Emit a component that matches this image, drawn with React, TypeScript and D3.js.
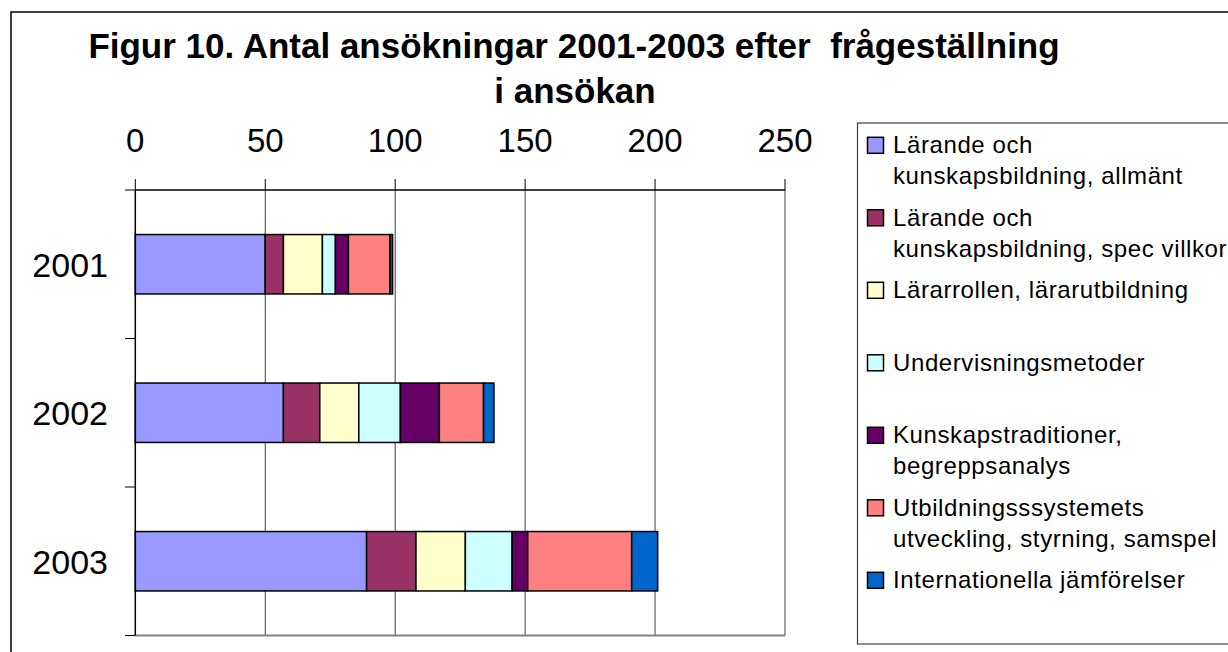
import React from 'react';
import * as d3 from 'd3';

const categories = ['2001', '2002', '2003'];
const seriesNames = [
  ['Lärande och', 'kunskapsbildning, allmänt'],
  ['Lärande och', 'kunskapsbildning, spec villkor'],
  ['Lärarrollen, lärarutbildning'],
  ['Undervisningsmetoder'],
  ['Kunskapstraditioner,', 'begreppsanalys'],
  ['Utbildningsssystemets', 'utveckling, styrning, samspel'],
  ['Internationella jämförelser'],
];
const seriesColors = ['#9999FF', '#993366', '#FFFFCC', '#CCFFFF', '#660066', '#FF8080', '#0066CC'];
const allmant = [50, 57, 89];
const specVillkor = [7, 14, 19];
const lararrollen = [15, 15, 19];
const undervisning = [5, 16, 18];
const kunskapstrad = [5, 15, 6];
const utbildningssys = [16, 17, 40];
const internationella = [1, 4, 10];
const seriesValues = [allmant, specVillkor, lararrollen, undervisning, kunskapstrad, utbildningssys, internationella];
const xTicks = [0, 50, 100, 150, 200, 250];

const FONT = '"Liberation Sans", Arial, sans-serif';

export default function App() {
  const x = d3.scaleLinear().domain([0, 250]).range([135.3, 785]);
  const y = d3.scaleBand<string>().domain(categories).range([190, 635.5]).padding(0);
  const keys = seriesValues.map((_, i) => 's' + i);
  const table = categories.map((c, ci) => {
    const row: any = { cat: c };
    seriesValues.forEach((vals, si) => (row['s' + si] = vals[ci]));
    return row;
  });
  const stacked = d3.stack<any>().keys(keys)(table);
  const bw = y.bandwidth();
  const barH = bw * 0.4;

  const legendTop = 153.3;
  const legendStep = 72.5;

  return (
    <svg
      width={1228}
      height={652}
      style={{ position: 'absolute', left: 0, top: 0, background: '#fff' }}
      fontFamily={FONT}
    >
      <rect x={0} y={0} width={1228} height={652} fill="#fff" />
      {/* outer chart border */}
      <rect x={11} y={12} width={1240} height={660} fill="none" stroke="#000" strokeWidth={1.5} />

      {/* title */}
      <text x={574} y={58} textAnchor="middle" fontSize={35} fontWeight="bold" style={{ whiteSpace: 'pre' }}>
        {'Figur 10. Antal ansökningar 2001-2003 efter  frågeställning'}
      </text>
      <text x={575} y={103} textAnchor="middle" fontSize={35} fontWeight="bold">
        i ansökan
      </text>

      {/* gridlines */}
      {xTicks.slice(1, -1).map((t) => (
        <line key={'g' + t} x1={x(t)} x2={x(t)} y1={190} y2={635.5} stroke="#404040" strokeWidth={1} />
      ))}
      {/* plot border right & bottom */}
      <line x1={x(250)} x2={x(250)} y1={190} y2={635.5} stroke="#808080" strokeWidth={1.5} />
      <line x1={x(0)} x2={x(250)} y1={635.5} y2={635.5} stroke="#808080" strokeWidth={2} />

      {/* bars */}
      {stacked.map((layer, si) =>
        layer.map((d, ci) => {
          const cy = (y(categories[ci]) as number) + bw / 2;
          return (
            <rect
              key={si + '-' + ci}
              x={x(d[0])}
              y={cy - barH / 2}
              width={x(d[1]) - x(d[0])}
              height={barH}
              fill={seriesColors[si]}
              stroke="#000"
              strokeWidth={1.5}
            />
          );
        })
      )}

      {/* top axis */}
      <line x1={x(0)} x2={x(250)} y1={190} y2={190} stroke="#000" strokeWidth={1.5} />
      {xTicks.map((t) => (
        <g key={'t' + t}>
          <line x1={x(t)} x2={x(t)} y1={179} y2={190} stroke="#000" strokeWidth={1} />
          <text x={x(t)} y={152} textAnchor="middle" fontSize={33}>
            {t}
          </text>
        </g>
      ))}

      {/* left axis */}
      <line x1={x(0)} x2={x(0)} y1={190} y2={635.5} stroke="#000" strokeWidth={1.5} />
      {[...categories.map((c) => y(c) as number), 635.5].map((v, i) => (
        <line key={'lt' + i} x1={125} x2={x(0)} y1={v} y2={v} stroke="#000" strokeWidth={1} />
      ))}
      {categories.map((c) => (
        <text key={'c' + c} x={108} y={(y(c) as number) + bw / 2 + 12.5} textAnchor="end" fontSize={34}>
          {c}
        </text>
      ))}

      {/* legend */}
      <rect x={857.5} y={123} width={400} height={521} fill="#fff" stroke="#404040" strokeWidth={1.2} />
      {seriesNames.map((lines, i) => {
        const base = legendTop + i * legendStep;
        return (
          <g key={'lg' + i}>
            <rect x={867.5} y={base - 16} width={16} height={16} fill={seriesColors[i]} stroke="#000" strokeWidth={1.5} />
            {lines.map((ln, li) => (
              <text key={li} x={893} y={base + li * 30.7} fontSize={24} letterSpacing={0.6}>
                {ln}
              </text>
            ))}
          </g>
        );
      })}
    </svg>
  );
}
